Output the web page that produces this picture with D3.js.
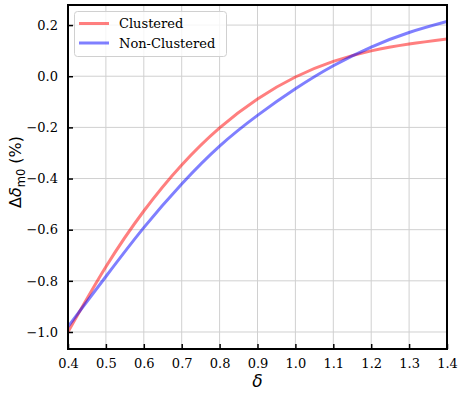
<!DOCTYPE html>
<html><head><meta charset="utf-8">
<script src="https://cdn.jsdelivr.net/npm/d3@7"></script>
<style>body{margin:0;background:#fff;} svg{display:block;}</style>
</head><body>
<script>
const delta = [0.4, 0.5, 0.6, 0.7, 0.8, 0.9, 1.0, 1.1, 1.2, 1.3, 1.4];
const clustered = [-1.0, -0.745, -0.527, -0.347, -0.202, -0.089, -0.003, 0.058, 0.099, 0.126, 0.146];
const nonClustered = [-0.979, -0.783, -0.592, -0.421, -0.273, -0.153, -0.049, 0.041, 0.114, 0.171, 0.214];
const xTicks = [0.4, 0.5, 0.6, 0.7, 0.8, 0.9, 1.0, 1.1, 1.2, 1.3, 1.4];
const yTicks = [-1.0, -0.8, -0.6, -0.4, -0.2, 0.0, 0.2];
const seriesNames = ["Clustered", "Non-Clustered"];
const seriesColors = ["rgba(255,0,0,0.5)", "rgba(0,0,255,0.5)"];

const W = 463, H = 397;
const L = 68, R = 447, T = 5, B = 349;
const svg = d3.select("body").append("svg").attr("width", W).attr("height", H);
const x = d3.scaleLinear().domain([0.4, 1.4]).range([L, R]);
const y = d3.scaleLinear().domain([-1.0665, 0.2785]).range([B, T]);
const fmt = d => d3.format(".1f")(d).replace("-", "\u2212");

// grid
const g = svg.append("g");
g.selectAll(".gx").data(xTicks).enter().append("line")
  .attr("x1", d => x(d)).attr("x2", d => x(d)).attr("y1", T).attr("y2", B)
  .attr("stroke", "#d0d0d0").attr("stroke-width", 1);
g.selectAll(".gy").data(yTicks).enter().append("line")
  .attr("y1", d => y(d)).attr("y2", d => y(d)).attr("x1", L).attr("x2", R)
  .attr("stroke", "#d0d0d0").attr("stroke-width", 1);

// lines
const series = [clustered, nonClustered];
const line = d3.line().x((d, i) => x(delta[i])).y(d => y(d)).curve(d3.curveNatural);
const clip = svg.append("clipPath").attr("id", "clip").append("rect")
  .attr("x", L).attr("y", T).attr("width", R - L).attr("height", B - T);
series.forEach((s, k) => {
  svg.append("path").datum(s).attr("d", line).attr("fill", "none")
    .attr("stroke", seriesColors[k]).attr("stroke-width", 3)
    .attr("clip-path", "url(#clip)");
});

// axes
const xAxis = d3.axisBottom(x).tickValues(xTicks).tickFormat(fmt).tickSizeInner(-5).tickSizeOuter(0).tickPadding(10);
const yAxis = d3.axisLeft(y).tickValues(yTicks).tickFormat(fmt).tickSizeInner(-5).tickSizeOuter(0).tickPadding(10);
const gx = svg.append("g").attr("transform", `translate(0,${B})`).call(xAxis);
const gy = svg.append("g").attr("transform", `translate(${L},0)`).call(yAxis);
[gx, gy].forEach(a => {
  a.select(".domain").remove();
  a.selectAll(".tick line").attr("stroke", "#000").attr("stroke-width", 1.5);
  a.selectAll("text").attr("font-family", "DejaVu Serif").attr("font-size", 13).attr("fill", "#000");
});
gx.selectAll("text").attr("dy", "0.71em");

// frame
svg.append("rect").attr("x", L).attr("y", T).attr("width", R - L).attr("height", B - T)
  .attr("fill", "none").attr("stroke", "#000").attr("stroke-width", 2);

// labels
svg.append("text").attr("x", (L + R) / 2).attr("y", 387).attr("text-anchor", "middle")
  .attr("font-family", "DejaVu Sans").attr("font-style", "italic").attr("font-size", 17).text("δ");
const yl = svg.append("text").attr("transform", `translate(21,${(T + B) / 2 - 5}) rotate(-90)`)
  .attr("text-anchor", "middle").attr("font-family", "DejaVu Sans").attr("font-size", 16);
yl.append("tspan").text("Δ");
yl.append("tspan").attr("font-style", "italic").text("δ");
yl.append("tspan").attr("font-size", 11.5).attr("dy", 4).text("m0");
yl.append("tspan").attr("dy", -4).text(" (%)");

// legend
const lg = svg.append("g");
lg.append("rect").attr("x", 74.5).attr("y", 11.5).attr("width", 152).attr("height", 45).attr("rx", 3)
  .attr("fill", "rgba(255,255,255,0.8)").attr("stroke", "#d0d0d0").attr("stroke-width", 1);
seriesNames.forEach((n, i) => {
  const yy = 23.5 + i * 19.5;
  lg.append("line").attr("x1", 79).attr("x2", 109).attr("y1", yy).attr("y2", yy)
    .attr("stroke", seriesColors[i]).attr("stroke-width", 3);
  lg.append("text").attr("x", 119).attr("y", yy).attr("dy", "0.35em")
    .attr("font-family", "DejaVu Serif").attr("font-size", 13).text(n);
});
</script>
</body></html>
